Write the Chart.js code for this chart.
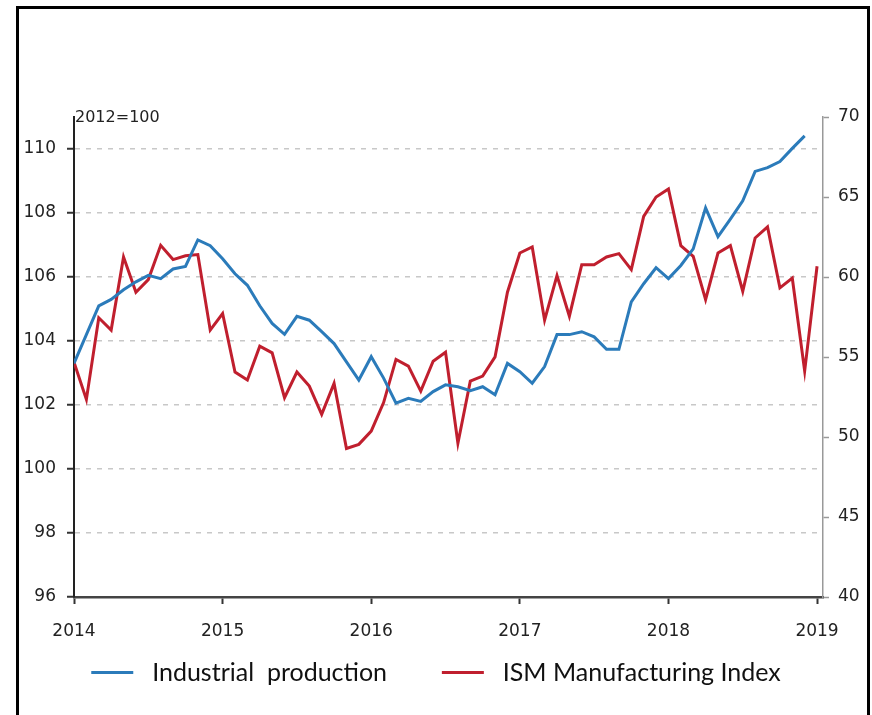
<!DOCTYPE html>
<html>
<head>
<meta charset="utf-8" />
<script src="https://cdn.jsdelivr.net/npm/chart.js@4.4.0/dist/chart.umd.min.js"></script>
<style>
  body { margin:0; background:#fff; }
  #wrap { position:relative; width:872px; height:715px; overflow:hidden; }
  #frame { position:absolute; left:16px; top:6px; width:848px; height:740px; border:3px solid #000; pointer-events:none; }
</style>
</head>
<body>
<div id="wrap">
  <canvas id="chart" width="872" height="715"></canvas>
  <div id="frame"></div>
</div>
<script>
// monthly series, first value = Jan 2014
const START_YEAR = 2014;
const industrialProduction = [
  103.3, 104.2, 105.1, 105.3, 105.6, 105.85, 106.05, 105.95, 106.25, 106.33, 107.16, 106.98,
  106.57, 106.1, 105.74, 105.1, 104.55, 104.21, 104.77, 104.65, 104.29, 103.92, 103.35, 102.78,
  103.51, 102.84, 102.06, 102.21, 102.11, 102.42, 102.63, 102.57, 102.45, 102.57, 102.32, 103.3,
  103.04, 102.68, 103.2, 104.2, 104.2, 104.29, 104.13, 103.74, 103.74, 105.22, 105.79, 106.29,
  105.95, 106.36, 106.88, 108.16, 107.26, 107.81, 108.38, 109.3, 109.42, 109.61, 110.02, 110.41
];
const ismIndex = [
  54.68, 52.35, 57.45, 56.68, 61.25, 59.05, 59.84, 61.98, 61.09, 61.33, 61.4, 56.68,
  57.72, 54.06, 53.56, 55.68, 55.26, 52.46, 54.06, 53.18, 51.42, 53.35, 49.28, 49.54,
  50.37, 52.15, 54.85, 54.43, 52.87, 54.74, 55.3, 49.61, 53.49, 53.81, 55.01, 59.05,
  61.5, 61.88, 57.3, 60.09, 57.55, 60.77, 60.77, 61.25, 61.46, 60.46, 63.79, 65.0,
  65.5, 61.96, 61.29, 58.59, 61.5, 61.96, 59.11, 62.44, 63.13, 59.32, 59.94, 54.12,
  60.67
];
const yearTicks = [2014, 2015, 2016, 2017, 2018, 2019];
const leftTicks = [96, 98, 100, 102, 104, 106, 108, 110];
const rightTicks = [40, 45, 50, 55, 60, 65, 70];

const BLUE = '#2b7bba', RED = '#c01f2e';
const TICK_FONT = { family: '"DejaVu Sans"', size: 17 };

function toPoints(arr) {
  return arr.map((v, i) => ({ x: START_YEAR + i / 12, y: v }));
}

const unitLabel = {
  id: 'unitLabel',
  afterDraw(chart) {
    const { ctx, chartArea } = chart;
    ctx.save();
    ctx.font = '16px "DejaVu Sans"';
    ctx.fillStyle = '#222';
    ctx.textBaseline = 'middle';
    ctx.fillText('2012=100', chartArea.left + 1, chartArea.top + 1);
    ctx.restore();
  }
};

new Chart(document.getElementById('chart'), {
  type: 'line',
  data: {
    datasets: [
      { label: 'Industrial  production', data: toPoints(industrialProduction), yAxisID: 'y',
        borderColor: BLUE, backgroundColor: BLUE, borderWidth: 3, pointRadius: 0, pointBorderWidth: 3, tension: 0 },
      { label: 'ISM Manufacturing Index', data: toPoints(ismIndex), yAxisID: 'y1',
        borderColor: RED, backgroundColor: RED, borderWidth: 3, pointRadius: 0, pointBorderWidth: 3, tension: 0 }
    ]
  },
  options: {
    responsive: false,
    animation: false,
    layout: { padding: { top: 117, left: 0, right: 0, bottom: 20 } },
    plugins: {
      tooltip: { enabled: false },
      legend: {
        position: 'bottom',
        labels: {
          usePointStyle: true, pointStyle: 'line', pointStyleWidth: 42,
          font: { family: 'Lato', size: 25 }, color: '#111', padding: 10,
          // extra spaces give the wider gaps of the original legend
          generateLabels: chart => Chart.defaults.plugins.legend.labels.generateLabels(chart)
            .map((l, i) => ({ ...l, text: ' ' + l.text + (i === 0 ? '       ' : '') }))
        }
      }
    },
    scales: {
      x: {
        type: 'linear', min: 2014, max: 2019.04,
        afterBuildTicks: s => { s.ticks = yearTicks.map(v => ({ value: v })); },
        afterFit: s => { s.height = 53; },
        ticks: { callback: v => String(v), font: TICK_FONT, color: '#222', padding: 17, maxRotation: 0, autoSkip: false },
        grid: { drawOnChartArea: false, tickLength: 7, tickColor: '#333', tickWidth: 2 },
        border: { color: '#444', width: 2.5 }
      },
      y: {
        position: 'left', min: 96, max: 111,
        afterBuildTicks: s => { s.ticks = leftTicks.map(v => ({ value: v })); },
        afterFit: s => { s.width = 74; },
        ticks: { font: TICK_FONT, color: '#222', padding: 11 },
        grid: {
          color: c => (c.tick && c.tick.value === 96) ? 'rgba(0,0,0,0)' : '#c8c8c8',
          lineWidth: 1.5, tickLength: 7, tickColor: '#333', tickWidth: 2
        },
        border: { color: '#222', width: 2, dash: [5, 6] }
      },
      y1: {
        position: 'right', min: 40, max: 70,
        afterBuildTicks: s => { s.ticks = rightTicks.map(v => ({ value: v })); },
        afterFit: s => { s.width = 49; },
        ticks: { font: TICK_FONT, color: '#222', padding: 9 },
        grid: { drawOnChartArea: false, tickLength: 6, tickColor: '#999', tickWidth: 1.5 },
        border: { color: '#999', width: 1.5 }
      }
    }
  },
  plugins: [unitLabel]
});
</script>
</body>
</html>
